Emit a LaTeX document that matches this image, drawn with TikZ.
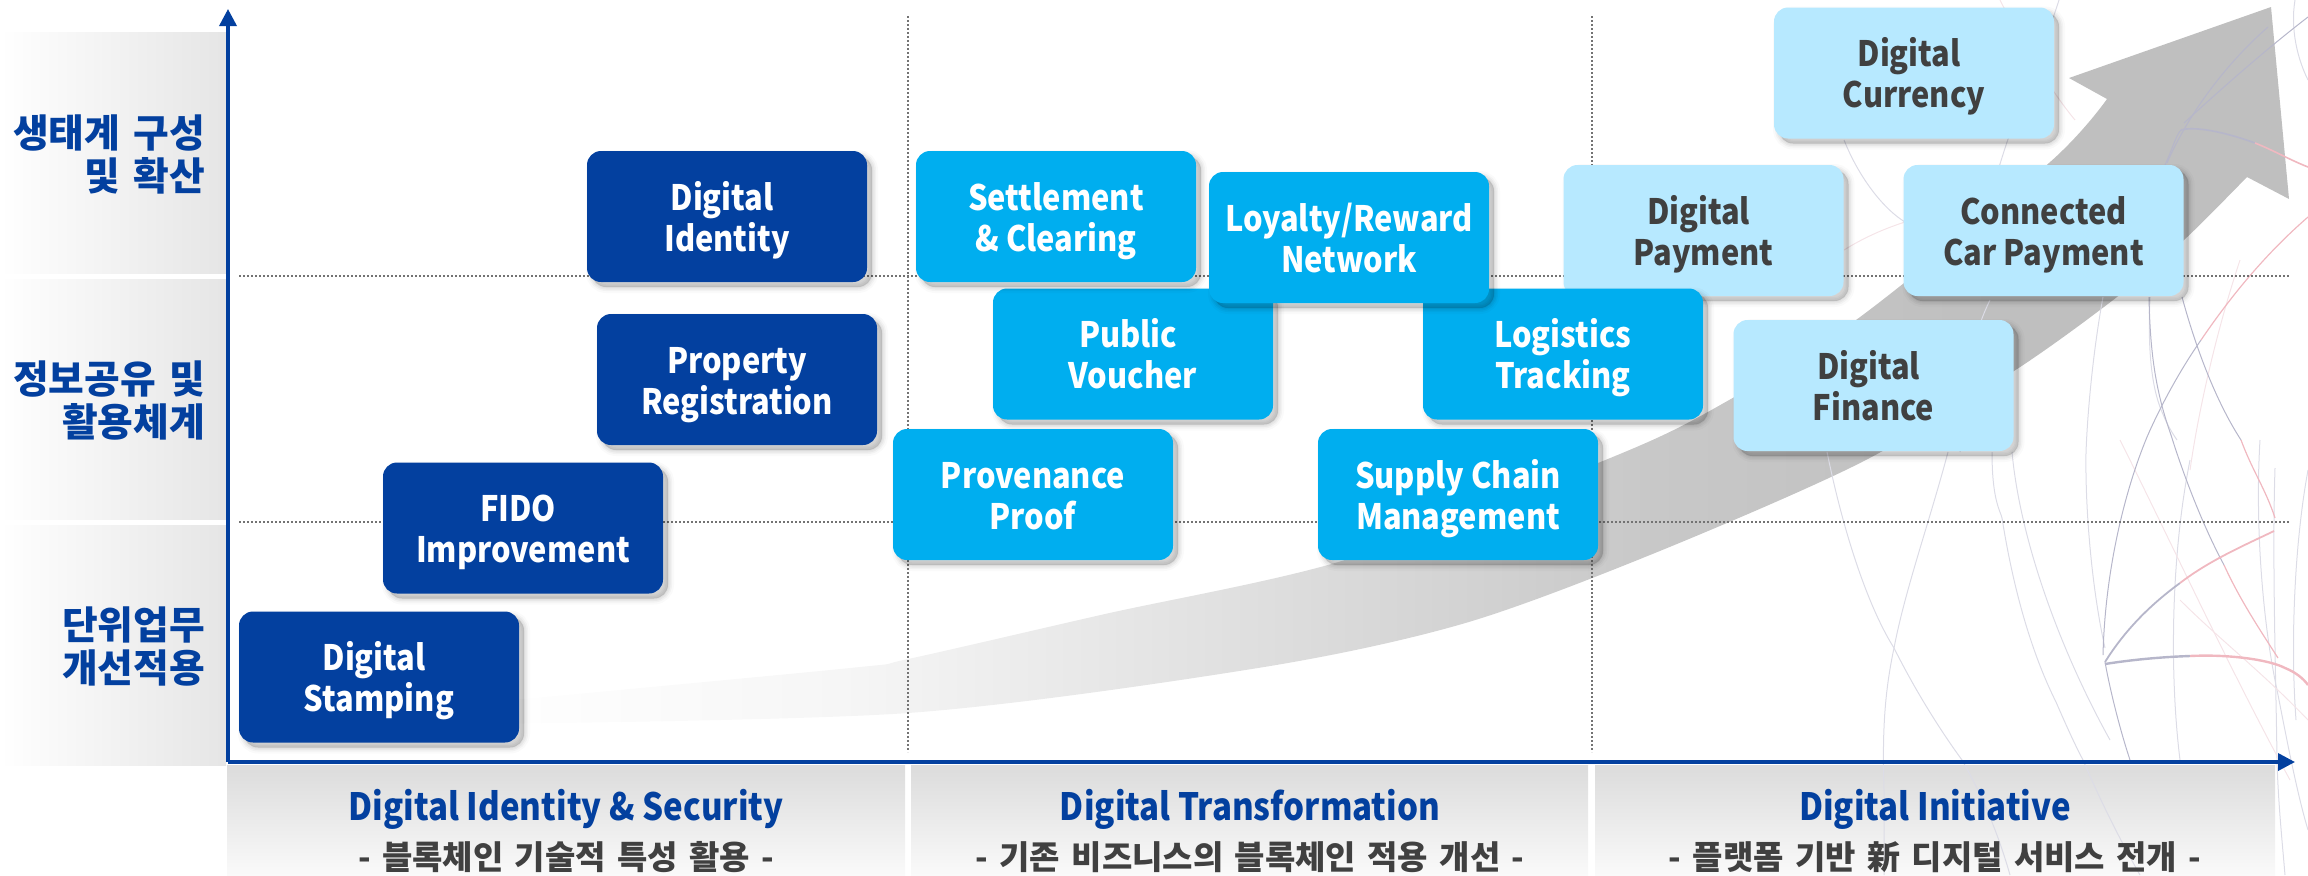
\documentclass[tikz,border=0pt]{standalone}
\usepackage{fontspec}
\setmainfont{Noto Sans CJK KR}[FakeStretch=0.88]
\newfontfamily\krfont{Noto Sans CJK KR}
\newfontfamily\krsub{Noto Sans CJK KR}[WordSpace=1.5]
\usetikzlibrary{arrows.meta}
\definecolor{deepblue}{HTML}{03409F}
\definecolor{midblue}{HTML}{00AEEF}
\definecolor{paleblue}{HTML}{B7E9FF}
\definecolor{inkgray}{HTML}{404040}
\definecolor{veinA}{HTML}{DCDCE6}
\definecolor{veinB}{HTML}{F5E4E8}
\definecolor{veinC}{HTML}{B6B6CA}
\definecolor{veinD}{HTML}{F0B8C0}
\definecolor{swA}{HTML}{F6F6F6}
\definecolor{swB}{HTML}{DCDCDC}
\definecolor{swC}{HTML}{C8C8C8}
\definecolor{swD}{HTML}{BFBFBF}
\pgfdeclarehorizontalshading{swoosh}{100bp}{color(0bp)=(white); color(25bp)=(white); color(35bp)=(swA); color(47.7bp)=(swB); color(57.3bp)=(swC); color(67bp)=(swD); color(100bp)=(swD)}
\tikzset{
  softshadow/.style={
    preaction={fill=black,fill opacity=.16,transform canvas={xshift=2.5pt,yshift=-2.5pt}},
    preaction={draw=black,draw opacity=.04,line width=1pt,transform canvas={xshift=2.5pt,yshift=-2.5pt}},
    preaction={draw=black,draw opacity=.04,line width=2.5pt,transform canvas={xshift=2.5pt,yshift=-2.5pt}},
    preaction={draw=black,draw opacity=.03,line width=4pt,transform canvas={xshift=2.5pt,yshift=-2.5pt}},
    preaction={draw=black,draw opacity=.02,line width=6pt,transform canvas={xshift=2.5pt,yshift=-2.5pt}}},
  card/.style={softshadow,rounded corners=7pt,minimum width=140pt,minimum height=65.5pt,inner sep=0pt,
    align=center,font=\fontsize{17.5}{20.5}\selectfont\bfseries},
  darkcard/.style={card,fill=deepblue,text=white},
  midcard/.style={card,fill=midblue,text=white},
  palecard/.style={card,fill=paleblue,text=inkgray},
  yband/.style={left color=white,right color=black!10},
  xband/.style={top color=black!14,bottom color=black!2},
  ylabel/.style={anchor=east,align=right,text=deepblue,font=\krfont\bfseries\fontsize{19.4}{21.5}\selectfont},
  xhead/.style={text=deepblue,font=\bfseries\fontsize{18.8}{20}\selectfont},
  xsub/.style={text=inkgray,font=\krsub\bfseries\fontsize{16.5}{18}\selectfont},
  axisline/.style={draw=deepblue,line width=1.75pt,-{Triangle[length=8.5pt,width=8.5pt]}},
  gridline/.style={draw=black!55,line width=.8pt,dash pattern=on .9pt off 1.1pt},
  veinlight/.style={draw=veinA,line width=.5pt},
  veinpink/.style={draw=veinB,line width=.5pt},
  veindark/.style={draw=veinC,line width=.5pt},
  veinred/.style={draw=veinD,line width=.6pt},
}
\newcommand{\tsp}{\hspace*{.28em}}
\newcommand{\tl}{\rule{0pt}{19pt}}
\newcommand{\bl}{\rule[-5pt]{0pt}{5pt}}
\begin{document}
\begin{tikzpicture}[x=.5pt,y=-.5pt]
\useasboundingbox (0,0) rectangle (2308,875);
\clip (0,0) rectangle (2308,875);
% bands
\path[yband] (0,32) rectangle (226,273);
\path[yband] (0,279) rectangle (226,519);
\path[yband] (0,525) rectangle (226,765);
\path[xband] (227,765) rectangle (905,875);
\path[xband] (911,765) rectangle (1588,875);
\path[xband] (1595,765) rectangle (2275,875);
% big rising arrow
\path[shading=swoosh,shading angle=0] plot[smooth] coordinates {(480,703) (850,668) (908,659) (1105,614) (1345,560) (1598,463) (1706,413) (1856,320) (2049,163) (2107,99)}
  -- (2069,78) -- (2271,7) -- (2289,199) -- (2247,177)
  -- plot[smooth] coordinates {(2247,177) (2184,240) (2117,297) (2014,371) (1860,463) (1650,555) (1462,624) (1258,668) (908,713) (480,724)} -- cycle;
% background veins
\draw[veinlight] (2059,0) .. controls (2040,60) and (2010,120) .. (1990,200);
\draw[veinlight] (1844,140) .. controls (1860,180) and (1885,210) .. (1905,222);
\draw[veinpink] (1905,222) .. controls (1880,230) and (1860,240) .. (1844,250);
\draw[veinlight] (1827,452) .. controls (1845,540) and (1870,610) .. (1894,648) .. controls (1915,690) and (1940,730) .. (1962,760) .. controls (1985,800) and (2000,840) .. (2010,875);
\draw[veinlight] (1948,452) .. controls (1930,520) and (1905,590) .. (1894,648) .. controls (1885,690) and (1882,730) .. (1884,790) -- (1884,875);
\draw[veinlight] (1992,452) .. controls (1992,500) and (2000,510) .. (2002,518) .. controls (2015,600) and (2035,660) .. (2056,702) .. controls (2066,725) and (2075,745) .. (2083,760) .. controls (2100,800) and (2120,840) .. (2140,875);
\draw[veinlight] (2012,452) .. controls (2020,540) and (2060,650) .. (2110,740);
\draw[veinlight] (2103,297) .. controls (2095,340) and (2088,400) .. (2086,452) .. controls (2085,510) and (2092,590) .. (2105,648);
\draw[veinlight] (2150,297) .. controls (2148,340) and (2150,380) .. (2160,407) .. controls (2165,420) and (2170,430) .. (2177,440);
\draw[veinlight] (2275,468) .. controls (2272,560) and (2276,680) .. (2277,760) .. controls (2278,800) and (2282,840) .. (2285,875);
\draw[veinlight] (2260,440) .. controls (2255,520) and (2262,620) .. (2277,690) .. controls (2285,730) and (2296,790) .. (2308,830);
\draw[veinlight] (2295,0) .. controls (2290,30) and (2298,60) .. (2308,80);
\draw[veinlight] (2308,470) .. controls (2295,540) and (2290,640) .. (2296,720);
\draw[veinlight] (2190,460) .. controls (2170,560) and (2170,680) .. (2180,760);
\draw[veinlight] (1990,300) .. controls (1970,340) and (1960,400) .. (1960,452);
\draw[veinpink] (2000,0) .. controls (2020,40) and (2050,90) .. (2075,120);
\draw[veinpink] (2120,440) .. controls (2170,540) and (2230,670) .. (2290,780);
\draw[veinpink] (2240,260) .. controls (2220,320) and (2200,400) .. (2190,470);
\draw[veinpink] (2180,600) .. controls (2220,640) and (2260,670) .. (2308,720);
% darker veins near the arrow head
\draw[veindark] (2167,163) .. controls (2190,110) and (2230,60) .. (2268,27);
\draw[veindark] (2184,123) .. controls (2220,90) and (2265,50) .. (2308,17);
\draw[veindark] (2165,165) .. controls (2172,150) and (2176,135) .. (2181,130);
\draw[veindark,line width=.8pt] (2181,130) .. controls (2195,126) and (2225,132) .. (2255,143);
\draw[veinred,line width=.8pt] (2255,143) .. controls (2275,151) and (2290,160) .. (2308,167);
\draw[veindark] (2182,297) .. controls (2195,345) and (2215,400) .. (2241,440);
\draw[veinred] (2241,440) .. controls (2252,470) and (2266,490) .. (2275,518);
\draw[veindark] (2149,297) .. controls (2150,350) and (2155,390) .. (2171,435) .. controls (2185,480) and (2205,530) .. (2224,565);
\draw[veinred] (2224,565) .. controls (2240,600) and (2260,630) .. (2278,658);
\draw[veindark] (2103,655) .. controls (2105,570) and (2125,490) .. (2147,437) .. controls (2160,407) and (2180,370) .. (2201,340);
\draw[veinred] (2201,340) .. controls (2235,290) and (2270,250) .. (2308,217);
\draw[veindark] (2105,662) .. controls (2110,690) and (2120,730) .. (2130,760);
% the two strong strokes from the anchor
\draw[veinC,line width=.9pt] (2105,662) .. controls (2125,630) and (2150,605) .. (2180,583);
\draw[veinD,line width=.9pt] (2180,583) .. controls (2210,560) and (2245,545) .. (2274,531);
\draw[veinC,line width=1.2pt] (2105,664) .. controls (2130,660) and (2160,657) .. (2190,656);
\draw[veinD,line width=1.2pt] (2190,656) .. controls (2230,654) and (2270,660) .. (2285,668) .. controls (2295,672) and (2303,678) .. (2308,685);
% grid
\coordinate (hAl) at (239,276); \coordinate (hAr) at (2289,276);
\coordinate (hBl) at (239,522); \coordinate (hBr) at (2289,522);
\coordinate (vAt) at (908,16); \coordinate (vAb) at (908,752);
\coordinate (vBt) at (1592,16); \coordinate (vBb) at (1592,752);
\draw[gridline] (hAl) -- (hAr);
\draw[gridline] (hBl) -- (hBr);
\draw[gridline] (vAt) -- (vAb);
\draw[gridline] (vBt) -- (vBb);
% axes
\coordinate (orig) at (228,762);
\coordinate (ytop) at (228,9);
\coordinate (xend) at (2295,762);
\draw[axisline] (orig) -- (ytop);
\draw[axisline] (orig) -- (xend);
% cards
\node[palecard] (currency) at (1914,73) {\tl Digital\tsp\\Currency\bl};
\node[palecard] (payment) at (1703.5,230.5) {\tl Digital\tsp\\Payment\bl};
\node[palecard] (connected) at (2043.5,230.5) {\tl Connected\\Car Payment\bl};
\node[palecard] (finance) at (1873.5,385.5) {\tl Digital\tsp\\Finance\bl};
\node[midcard] (logistics) at (1563,354) {\tl Logistics\\Tracking\bl};
\node[midcard] (public) at (1133,354) {\tl Public\tsp\\Voucher\bl};
\node[midcard] (settlement) at (1056,216.5) {\tl Settlement\\\&\ Clearing\bl};
\node[midcard] (loyalty) at (1349,237.5) {\tl Loyalty/Reward\\Network\bl};
\node[midcard] (provenance) at (1033,494.5) {\tl Provenance\\Proof\bl};
\node[midcard] (supply) at (1458,494.5) {\tl Supply Chain\\Management\bl};
\node[darkcard] (identity) at (727,216.5) {\tl Digital\tsp\\Identity\bl};
\node[darkcard] (property) at (737,379.5) {\tl Property\\Registration\bl};
\node[darkcard] (fido) at (523,528) {\tl FIDO\tsp\\Improvement\bl};
\node[darkcard] (stamping) at (379,677) {\tl Digital\tsp\\Stamping\bl};
% axis labels
\node[ylabel] (lA) at (212,154.5) {생태계 구성\\및 확산};
\node[ylabel] (lB) at (212,400) {정보공유 및\\활용체계};
\node[ylabel] (lC) at (212,646.5) {단위업무\\개선적용};
\node[xhead] (hA) at (566,809) {Digital Identity \& Security};
\node[xsub] (sA) at (566,857) {- 블록체인 기술적 특성 활용 -};
\node[xhead] (hB) at (1250,809) {Digital Transformation};
\node[xsub] (sB) at (1250,857) {- 기존 비즈니스의 블록체인 적용 개선 -};
\node[xhead] (hC) at (1935,809) {Digital Initiative};
\node[xsub] (sC) at (1935,857) {- 플랫폼 기반 新 디지털 서비스 전개 -};
\end{tikzpicture}
\end{document}
